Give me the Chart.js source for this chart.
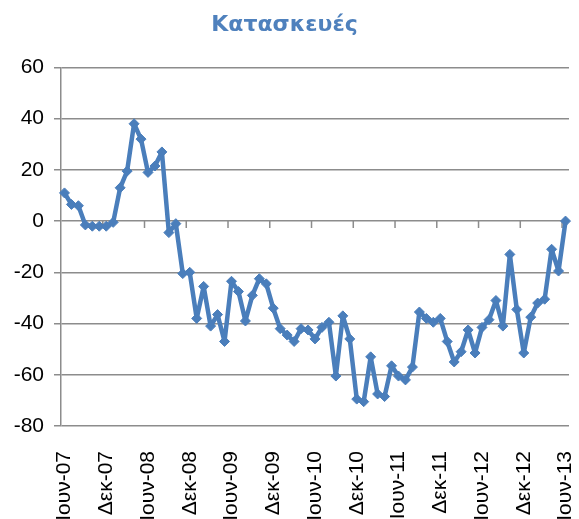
<!DOCTYPE html>
<html>
<head>
<meta charset="utf-8">
<script src="https://cdn.jsdelivr.net/npm/chart.js@4/dist/chart.umd.min.js"></script>
<style>
  body { margin: 0; background: #fff; }
  #wrap { width: 579px; height: 519px; position: relative; }
</style>
</head>
<body>
<div id="wrap"><canvas id="chart"></canvas></div>
<script>
// Monthly balance, Jun-07 .. Jun-13
const monthNames = ['Ιαν', 'Φεβ', 'Μαρ', 'Απρ', 'Μαϊ', 'Ιουν', 'Ιουλ', 'Αυγ', 'Σεπ', 'Οκτ', 'Νοε', 'Δεκ'];
const startYear = 7;
const startMonth = 5; // Ιουν

const values = [
    11, 6.5, 6, -1.5, -2, -2, -2, -0.5, 13, 19.5, 38, 32,
    19, 21.5, 27, -4.5, -1, -20.5, -20, -38, -25.5, -41, -36.5, -47,
    -23.5, -27.5, -39, -29, -22.5, -24.5, -34, -42, -44.5, -47, -42, -42.5,
    -46, -41.5, -39.5, -60.5, -37, -46, -69.5, -70.5, -53, -67.5, -68.5, -56.5,
    -60.5, -62, -57, -35.5, -38, -39.5, -38, -47, -55, -51, -42.5, -51.5,
    -41.5, -38.5, -31, -41, -13, -34.5, -51.5, -37.5, -32, -30.5, -11, -19.5,
    0
];

const yTicks = [-80, -60, -40, -20, 0, 20, 40, 60];
const labelEvery = 6;

// build category labels like "Ιουν-07"
const labels = values.map((v, i) => {
    const m = (startMonth + i) % 12;
    const y = startYear + Math.floor((startMonth + i) / 12);
    return monthNames[m] + '-' + String(y).padStart(2, '0');
});

const blue = '#4A7EBB';
const gridGray = '#8c8c8c';

// small tick marks on the zero line, between categories, every 6 months
const zeroTicks = {
    id: 'zeroTicks',
    beforeDatasetsDraw(chart) {
        const x = chart.scales.x;
        const y = chart.scales.y;
        const y0 = y.getPixelForValue(0);
        const ctx = chart.ctx;
        ctx.save();
        ctx.strokeStyle = gridGray;
        ctx.lineWidth = 1.5;
        ctx.beginPath();
        for (let i = labelEvery; i < labels.length; i += labelEvery) {
            const px = (x.getPixelForValue(i) + x.getPixelForValue(i - 1)) / 2;
            ctx.moveTo(px, y0);
            ctx.lineTo(px, y0 + 7);
        }
        ctx.stroke();
        ctx.restore();
    }
};

new Chart(document.getElementById('chart'), {
    type: 'line',
    data: {
        labels: labels,
        datasets: [{
            data: values,
            borderColor: blue,
            backgroundColor: blue,
            borderWidth: 4.5,
            borderJoinStyle: 'round',
            borderCapStyle: 'round',
            pointStyle: 'rectRot',
            pointRadius: 5,
            pointBorderWidth: 1,
            tension: 0
        }]
    },
    options: {
        responsive: true,
        maintainAspectRatio: false,
        animation: false,
        layout: { padding: { right: 10 } },
        plugins: {
            legend: { display: false },
            tooltip: { enabled: false },
            title: {
                display: true,
                text: 'Κατασκευές',
                color: '#4F81BD',
                font: { family: 'DejaVu Sans', size: 22, weight: 'bold' },
                padding: { top: 12, bottom: 29 }
            }
        },
        scales: {
            x: {
                type: 'category',
                offset: true,
                grid: { display: false },
                border: { display: false },
                ticks: {
                    autoSkip: false,
                    minRotation: 90,
                    maxRotation: 90,
                    padding: 17,
                    color: '#000',
                    font: { family: 'Liberation Sans', size: 21 },
                    callback: function (val, index) {
                        return index % labelEvery === 0 ? labels[index] : '';
                    }
                },
                afterFit: function (scale) {
                    scale.height = 93;
                    scale.paddingLeft = 0;
                    scale.paddingRight = 0;
                }
            },
            y: {
                min: yTicks[0],
                max: yTicks[yTicks.length - 1],
                afterBuildTicks: function (scale) {
                    scale.ticks = yTicks.map(v => ({ value: v }));
                },
                grid: { color: gridGray, lineWidth: 1.5, tickLength: 7 },
                border: { display: true, color: gridGray, width: 1.5 },
                ticks: {
                    padding: 10,
                    color: '#000',
                    font: { family: 'Liberation Sans', size: 21 }
                },
                afterFit: function (scale) { scale.width = 61; }
            }
        }
    },
    plugins: [zeroTicks]
});
</script>
</body>
</html>
